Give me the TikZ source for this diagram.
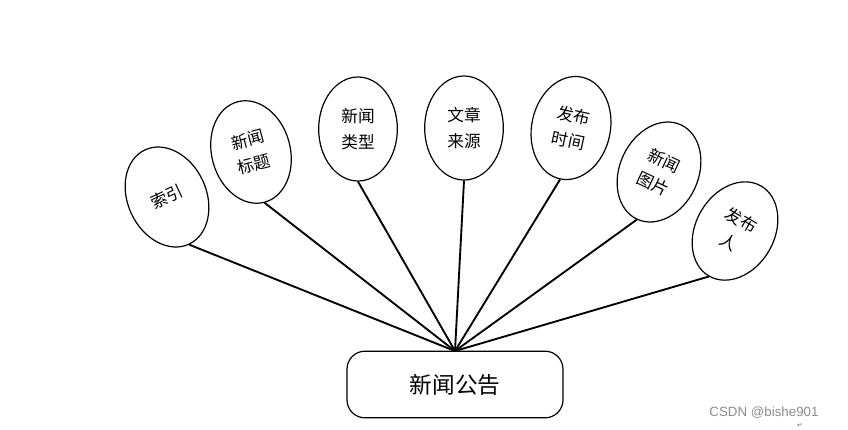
\documentclass[tikz,border=0pt]{standalone}
\usepackage{fontspec}
\setmainfont{Noto Sans CJK SC}
\newfontfamily\wmfont{Liberation Sans}
\newfontfamily\symfont{DejaVu Sans}
\usetikzlibrary{shapes.geometric}
\tikzset{
  attr/.style={ellipse,draw,line width=0.9pt,minimum width=59pt,minimum height=78pt,inner sep=0pt,align=center,font=\fontsize{12.5}{19}\selectfont},
  ent/.style={rectangle,draw,line width=0.9pt,rounded corners=13.5pt,minimum width=162pt,minimum height=50pt,font=\fontsize{17}{20}\selectfont},
  link/.style={line width=1.4pt}
}
\begin{document}
\begin{tikzpicture}[x=0.75pt,y=-0.75pt]
\useasboundingbox (0,0) rectangle (848,429);
\node[ent] (e) at (455,384.5) {新闻公告};
\coordinate (hub) at (455,351);
\node[attr,rotate=25] (a1) at (167,197) {索引};
\node[attr,rotate=15] (a2) at (251,152) {新闻\\标题};
\node[attr] (a3) at (358,129) {新闻\\类型};
\node[attr] (a4) at (464,128) {文章\\来源};
\node[attr,rotate=-12] (a5) at (571,128) {发布\\时间};
\node[attr,rotate=-25] (a6) at (659,172) {新闻\\图片};
\node[attr,rotate=-30] (a7) at (735,231) {发布\\人};
\foreach \n in {a1,a2,a3,a4,a5,a6,a7}{\draw[link] (\n.south) -- (hub);}
\node[font=\wmfont\fontsize{10}{12}\selectfont,text=black!45] (wm) at (764,413) {CSDN @bishe901};
\node[font=\symfont\fontsize{5}{6}\selectfont,text=black!60] (ret) at (800,425) {↵};
\end{tikzpicture}
\end{document}
